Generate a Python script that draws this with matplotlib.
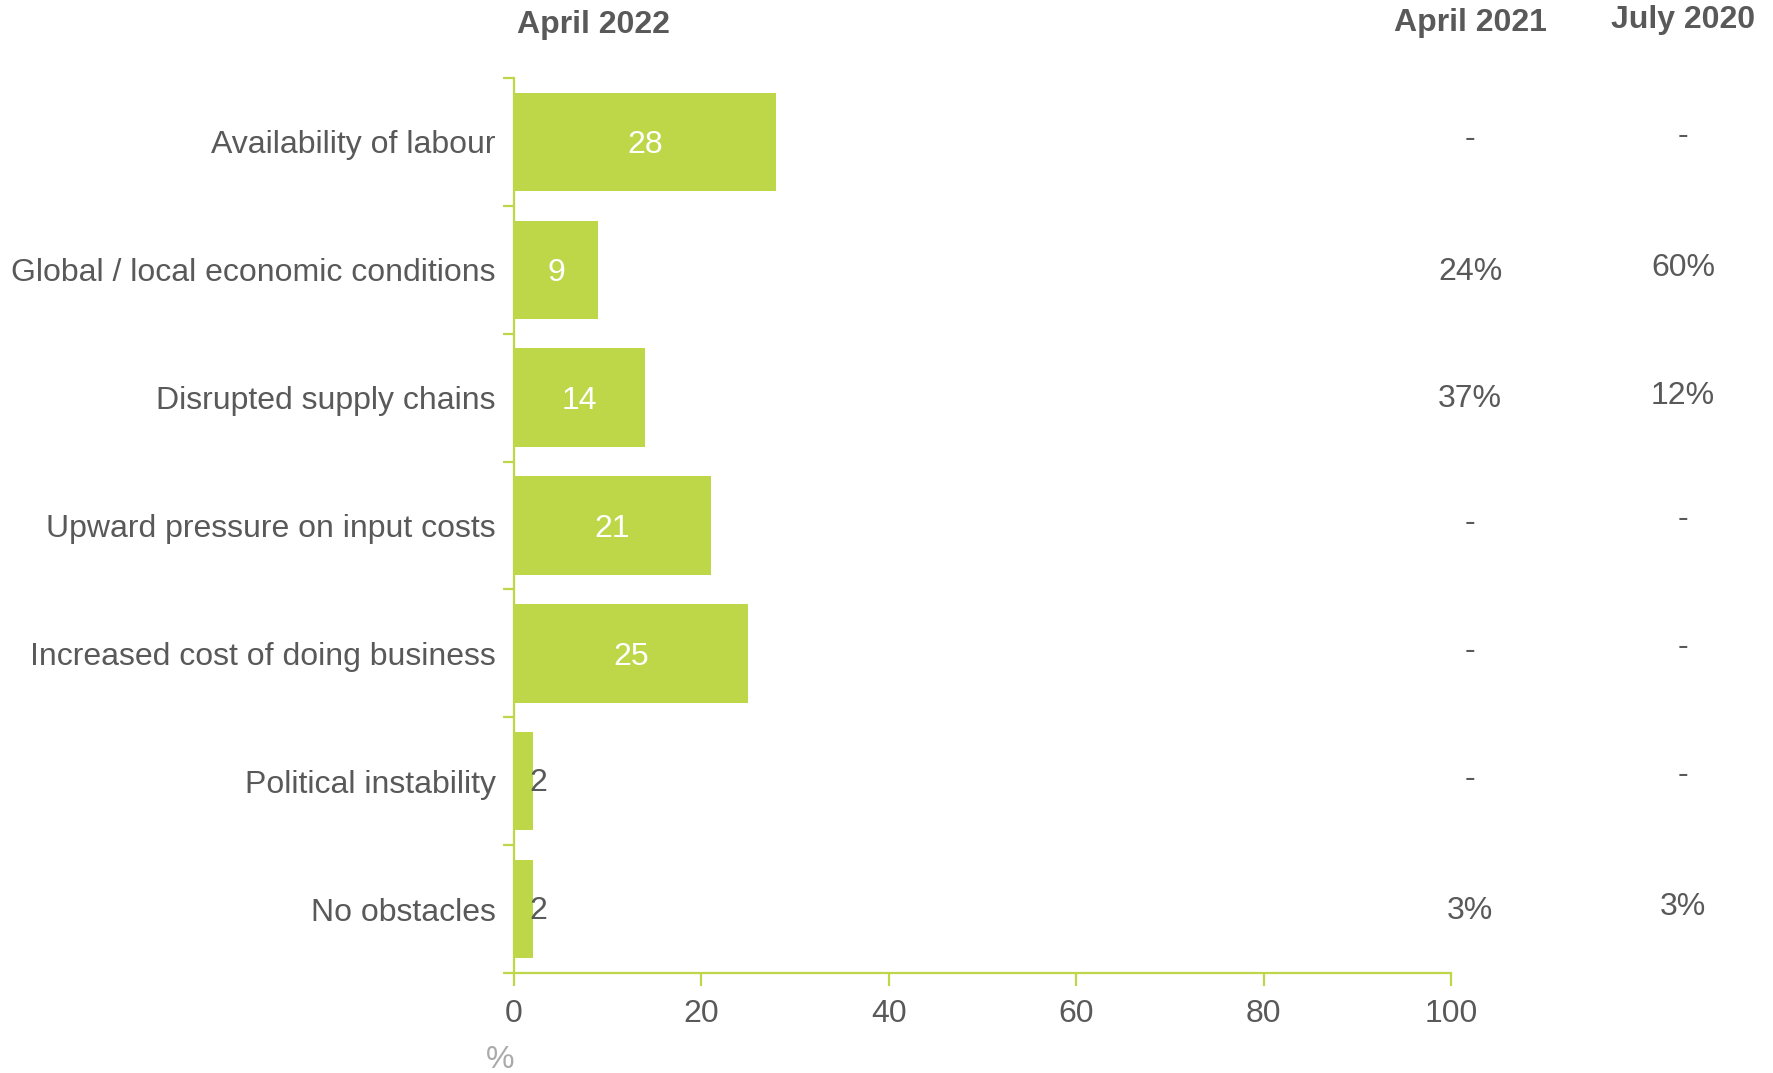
import numpy as np
import matplotlib.pyplot as plt
from matplotlib.transforms import blended_transform_factory

# === Data ===
categories = ["Availability of labour", "Global / local economic conditions",
              "Disrupted supply chains", "Upward pressure on input costs",
              "Increased cost of doing business", "Political instability",
              "No obstacles"]
april_2022 = [28, 9, 14, 21, 25, 2, 2]
april_2021 = ["-", "24%", "37%", "-", "-", "-", "3%"]
july_2020 = ["-", "60%", "12%", "-", "-", "-", "3%"]
x_ticks = [0, 20, 40, 60, 80, 100]

green = "#bdd748"
grey = "#595959"
fs = 23

plt.rcParams['font.family'] = ['Liberation Sans', 'DejaVu Sans']

fig = plt.figure(figsize=(17.74, 10.73), dpi=100)
ax = fig.add_axes([0.2897, 0.0932, 0.5282, 0.8341])

y = np.arange(len(categories))
ax.barh(y, april_2022, height=0.77, color=green)

ax.set_xlim(0, 100)
ax.set_ylim(len(categories) - 0.5, -0.5)

for s in ['top', 'right']:
    ax.spines[s].set_visible(False)
for s in ['left', 'bottom']:
    ax.spines[s].set_color(green)
    ax.spines[s].set_linewidth(1.6)

ax.set_xticks(x_ticks)
ax.set_xticklabels([str(t) for t in x_ticks])
ax.tick_params(axis='x', colors=green, labelcolor=grey, labelsize=fs,
               length=9, width=1.6, pad=10)

ax.set_yticks(y)
ax.set_yticklabels(categories)
ax.tick_params(axis='y', which='major', length=0, pad=13, labelsize=fs,
               labelcolor=grey)
ax.set_yticks(np.arange(len(categories) + 1) - 0.5, minor=True)
ax.tick_params(axis='y', which='minor', length=8, width=1.6, colors=green)

# value labels
for i, v in enumerate(april_2022):
    if v >= 5:
        ax.annotate(str(v), (v / 2, i), xytext=(0, -3.5),
                    textcoords='offset pixels', ha='center', va='center',
                    color='white', fontsize=fs)
    else:
        ax.annotate(str(v), (v, i), xytext=(-3, -2), textcoords='offset pixels',
                    ha='left', va='center', color=grey, fontsize=fs)

# other survey columns
tr = blended_transform_factory(fig.transFigure, ax.transData)
for i in range(len(categories)):
    dy21 = -2.7 if april_2021[i] == "-" else 1.8
    dy20 = -6.4 if july_2020[i] == "-" else -1.7
    ax.annotate(april_2021[i], (0.8287, i), xycoords=tr, xytext=(0, -dy21),
                textcoords='offset pixels', ha='center', va='center',
                color=grey, fontsize=fs, annotation_clip=False)
    ax.annotate(july_2020[i], (0.9487, i), xycoords=tr, xytext=(0, -dy20),
                textcoords='offset pixels', ha='center', va='center',
                color=grey, fontsize=fs, annotation_clip=False)

fig.text(0.3348, 1 - 25.5 / 1073, "April 2022", ha='center', va='center',
         color=grey, fontsize=fs, fontweight='bold')
fig.text(0.8287, 1 - 23.4 / 1073, "April 2021", ha='center', va='center',
         color=grey, fontsize=fs, fontweight='bold')
fig.text(0.9487, 1 - 20.3 / 1073, "July 2020", ha='center', va='center',
         color=grey, fontsize=fs, fontweight='bold')
fig.text(500 / 1774, 1 - 1060 / 1073, "%", ha='center', va='center',
         color='#aaaaaa', fontsize=fs)

fig.savefig("out.png", dpi=100)
